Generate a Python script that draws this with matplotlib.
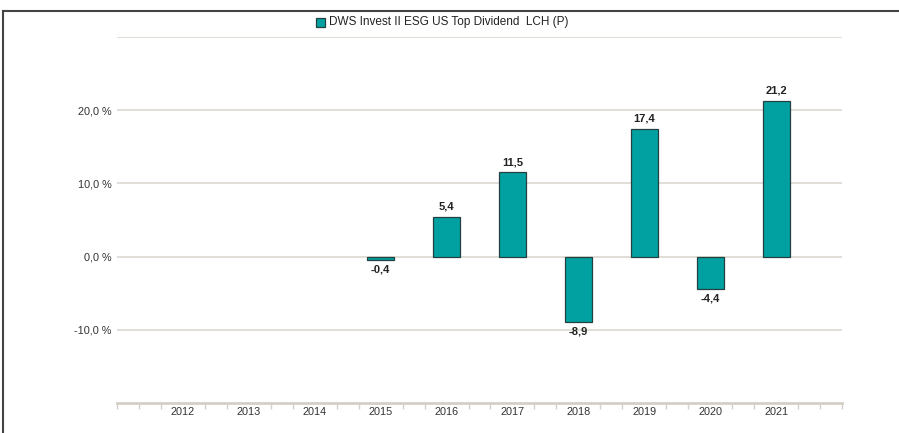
import matplotlib
matplotlib.use("Agg")
import matplotlib.pyplot as plt
from matplotlib.lines import Line2D
from matplotlib.patches import Rectangle
import numpy as np

years = [2012, 2013, 2014, 2015, 2016, 2017, 2018, 2019, 2020, 2021]
bar_years = [2015, 2016, 2017, 2018, 2019, 2020, 2021]
values = [-0.4, 5.4, 11.5, -8.9, 17.4, -4.4, 21.2]
value_labels = ["-0,4", "5,4", "11,5", "-8,9", "17,4", "-4,4", "21,2"]
ytick_vals = [-10, 0, 10, 20]
ytick_labels = ["-10,0 %", "0,0 %", "10,0 %", "20,0 %"]
series_name = "DWS Invest II ESG US Top Dividend  LCH (P)"

plt.rcParams['font.family'] = ['Liberation Sans', 'DejaVu Sans']

BAR = "#00a1a0"
EDGE = "#244040"
GRID = "#dcd8d0"

fig = plt.figure(figsize=(8.99, 4.33), dpi=100)
ax = fig.add_axes([117/899, (433-403)/433, (842-117)/899, (403-37)/433])
ax.set_xlim(2011, 2022)
ax.set_ylim(-20, 30)

for g in [-10, 0, 10, 20, 30]:
    ax.axhline(g, color=GRID, lw=1.2, zorder=0)

ax.bar(bar_years, values, width=0.41, color=BAR, edgecolor=EDGE, linewidth=0.9, zorder=3)

for x, v, s in zip(bar_years, values, value_labels):
    off = 7.5 if v >= 0 else -7.0
    ax.annotate(s, (x, v), xytext=(0, off), textcoords='offset points',
                ha='center', va='center', fontsize=8, fontweight='bold', color='#222222')

for sp in ['top', 'right', 'left']:
    ax.spines[sp].set_visible(False)
ax.spines['bottom'].set_color('#d4d0c8')
ax.spines['bottom'].set_linewidth(2)

ax.set_yticks(ytick_vals)
ax.set_yticklabels(ytick_labels, fontsize=7.8, color='#333333')
ax.tick_params(axis='y', length=0, pad=4)

ax.set_xticks(years)
ax.set_xticklabels([str(y) for y in years], fontsize=7.8, color='#333333')
ax.tick_params(axis='x', which='major', length=0, pad=3)
minor = [2011 + j/3 for j in range(34) if j % 3 != 0 or j in (0, 33)]
ax.set_xticks(minor, minor=True)
ax.tick_params(axis='x', which='minor', length=4, width=1, color='#d4d0c8', direction='out')

# figure frame lines (top and left)
fig.add_artist(Line2D([3/899, 1.0], [1-11/433, 1-11/433], color='#444444', lw=1.5, transform=fig.transFigure))
fig.add_artist(Line2D([3/899, 3/899], [0, 1-11/433], color='#444444', lw=1.5, transform=fig.transFigure))

# legend
fig.add_artist(Rectangle((316/899, 1-27/433), 9/899, 9/433, facecolor=BAR, edgecolor=EDGE,
                         lw=0.9, transform=fig.transFigure))
fig.text(329/899, 1-22.5/433, series_name, fontsize=8.5, va='center', ha='left', color='#222222')

fig.savefig("out.png", dpi=100)
